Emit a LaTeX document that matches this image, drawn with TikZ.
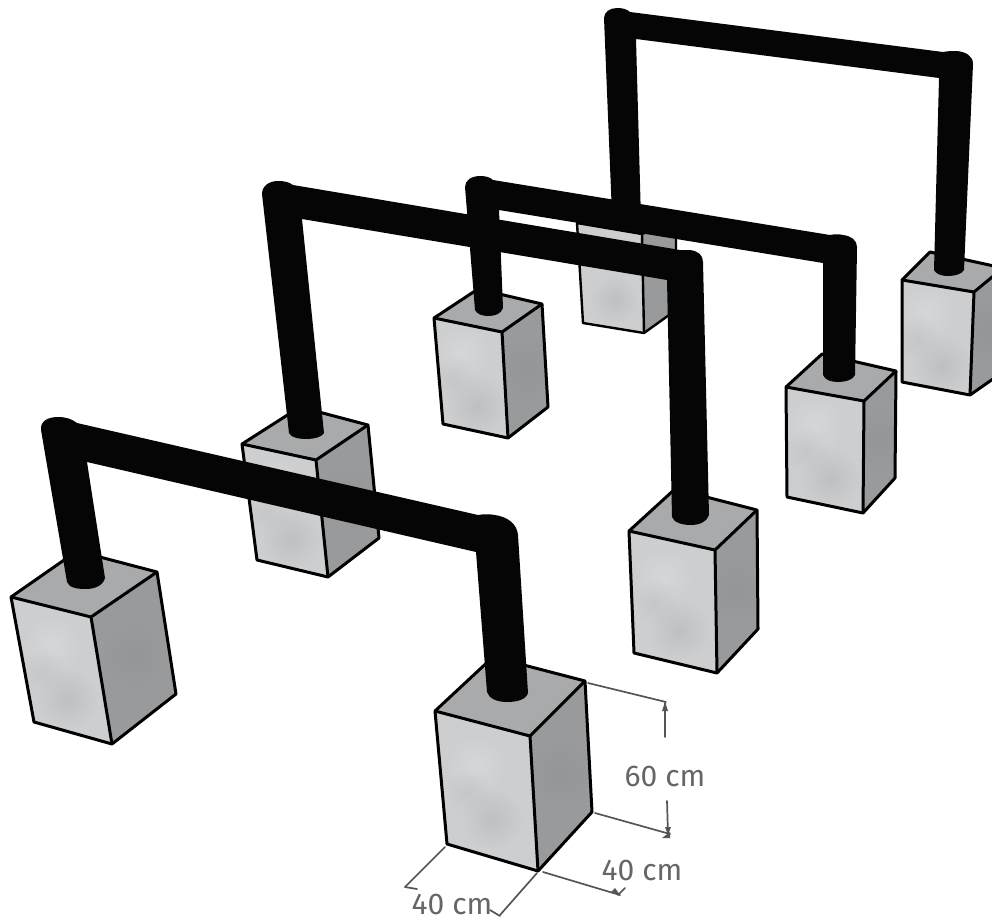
\documentclass[tikz,border=0pt]{standalone}
\usepackage{fontspec}
\setmainfont{Fira Sans}
\usetikzlibrary{calc,fadings}
\tikzfading[name=softblob,inner color=transparent!0,outer color=transparent!100]
\definecolor{fc}{HTML}{CDCED0}
\definecolor{fd}{HTML}{A8A9AB}
\definecolor{fl}{HTML}{E4E5E6}
\definecolor{rc}{HTML}{999A9B}
\definecolor{rd}{HTML}{868788}
\definecolor{tc}{HTML}{A9AAAB}
\definecolor{pc}{HTML}{050505}
\definecolor{dc}{HTML}{555555}
\definecolor{tx}{HTML}{666666}
\tikzset{
  edge/.style={draw=black,line width=3pt,line join=round},
  pipe/.style={fill=pc,draw=none},
  dim/.style={draw=dc,line width=1.7pt,line cap=round},
  tip/.style={fill=dc,draw=none},
  blot/.style={path fading=softblob,fill opacity=0.38},
  dimtext/.style={text=tx,font=\fontsize{30}{30}\selectfont,inner sep=0pt}
}
% L, Back, R, F, BL, BF, BR
\newcommand{\blockbox}[7]{%
  \begin{scope}
    \clip (#1) -- (#4) -- (#6) -- (#5) -- cycle;
    \fill[fc] (#1) -- (#4) -- (#6) -- (#5) -- cycle;
    \fill[fd,blot] ($(#1)!0.5!(#6)+(6,28)$) ellipse (30 and 30);
    \fill[fl,blot] ($(#1)!0.5!(#6)+(-10,-25)$) ellipse (32 and 32);
    \fill[fd,blot,fill opacity=0.2] ($(#1)!0.5!(#6)+(-18,0)$) ellipse (22 and 22);
  \end{scope}
  \begin{scope}
    \clip (#4) -- (#3) -- (#7) -- (#6) -- cycle;
    \fill[rc] (#4) -- (#3) -- (#7) -- (#6) -- cycle;
    \fill[rd,blot,fill opacity=0.22] ($(#4)!0.5!(#7)$) ellipse (30 and 30);
  \end{scope}
  \fill[tc] (#1) -- (#2) -- (#3) -- (#4) -- cycle;
  \draw[edge] (#1) -- (#2) -- (#3) -- (#7) -- (#6) -- (#5) -- cycle;
  \draw[edge] (#1) -- (#4) -- (#3) (#4) -- (#6);
}
\begin{document}
\begin{tikzpicture}[x=1pt,y=-1pt]
\useasboundingbox (0,0) rectangle (992,919);
\clip (0,0) rectangle (992,919);
% rear right block
\blockbox{902,280}{930,252}{1003,268}{974,292}{902,382}{970,395}{1003,372}
% rear centre block (top hidden)
\begin{scope}
  \clip (577,223) -- (642,234) -- (644,333) -- (583,323) -- cycle;
  \fill[fc] (577,223) -- (642,234) -- (644,333) -- (583,323) -- cycle;
  \fill[fd,blot] (615,300) ellipse (24 and 24);
\end{scope}
\fill[rc] (642,234) -- (676,220) -- (676,310) -- (644,333) -- cycle;
\draw[edge,line width=2.4pt] (577,223) -- (642,234) -- (676,220) -- (676,310) -- (644,333) -- (583,323) -- cycle;
\draw[edge,line width=2.4pt] (642,234) -- (644,333);
% rear frame
\fill[pipe] (612,215) -- (604,18) .. controls (604,12) and (610,8) .. (617,8) .. controls (622,8) and (627,9) .. (630,12) -- (943,52) .. controls (948,51) and (952,51) .. (957,51) .. controls (966,52) and (973,56) .. (973,64) -- (964,270) .. controls (962,274) and (955,276) .. (948,276) .. controls (941,276) and (936,274) .. (934,270) -- (939,78) -- (636,39) -- (641,220) -- cycle;
% third row blocks
\blockbox{434,318}{478,289}{542,304}{502,332}{443,424}{508,438}{548,407}
\blockbox{786,387}{822,354}{896,371}{864,401}{787,497}{863,513}{895,478}
% third frame
\fill[pipe] (475,310) -- (465,187) .. controls (465,180) and (472,176) .. (480,176) .. controls (485,176) and (490,177) .. (493,180) -- (830,235) .. controls (835,234) and (839,234) .. (843,235) .. controls (851,236) and (857,240) .. (857,247) -- (855,375) .. controls (853,380) and (845,382) .. (838,382) .. controls (831,382) and (825,380) .. (823,375) -- (823,263) -- (499,210) -- (503,308) .. controls (501,314) and (495,316) .. (488,316) .. controls (482,316) and (477,314) .. (475,310) -- cycle;
% second row blocks
\blockbox{242,444}{300,407}{368,425}{316,460}{257,560}{328,577}{379,538}
\blockbox{629,531}{675,489}{757,510}{715,550}{634,653}{717,673}{758,629}
% second frame
\fill[pipe] (289,433) -- (262,194) .. controls (262,186) and (269,181) .. (278,181) .. controls (284,181) and (289,182) .. (293,185) -- (680,250) .. controls (684,250) and (687,250) .. (690,250) .. controls (698,251) and (703,255) .. (703,262) -- (709,515) .. controls (707,522) and (699,525) .. (691,525) .. controls (683,525) and (674,523) .. (672,517) -- (667,280) -- (302,219) -- (324,433) .. controls (322,437) and (314,439) .. (307,439) .. controls (300,439) and (291,438) .. (289,433) -- cycle;
% front row blocks
\blockbox{11,597}{77,551}{157,572}{91,617}{34,722}{112,744}{176,694}
\blockbox{435,711}{493,657}{585,681}{530,736}{447,844}{538,871}{592,812}
% front frame
\fill[pipe] (67,582) -- (41,430) .. controls (40,421) and (48,417) .. (58,417) .. controls (66,417) and (72,419) .. (77,423) -- (478,515) .. controls (484,514) and (490,514) .. (495,515) .. controls (508,517) and (517,524) .. (518,535) -- (528,693) .. controls (526,700) and (516,702) .. (507,702) .. controls (498,702) and (489,699) .. (487,692) -- (476,552) -- (87,462) -- (105,578) .. controls (103,586) and (94,589) .. (86,589) .. controls (78,589) and (69,588) .. (67,582) -- cycle;
% dimensions
\draw[dim] (588,683) -- (666,702);
\draw[dim] (665,703) -- (665,737);
\fill[tip] (665,702) -- (662,711) -- (668,711) -- cycle;
\draw[dim] (595,813) -- (670,834);
\draw[dim] (667,801) -- (668,835);
\fill[tip] (668,835) -- (665,827) -- (671,827) -- cycle;
\fill[tip] (662,838) -- (670,832) -- (670,838) -- cycle;
\draw[dim] (543,872) -- (620,895);
\draw[dim] (618,895) -- (625,888);
\fill[tip] (620,895) -- (611,892) -- (615,888) -- cycle;
\draw[dim] (445,847) -- (405,887);
\draw[dim] (405,887) -- (417,889);
\draw[dim] (537,873) -- (500,915);
\draw[dim] (490,910) -- (500,916);
\node[dimtext] (h) at (665,776) {60 cm};
\node[dimtext] (w) at (642,870) {40 cm};
\node[dimtext] (d) at (452,904) {40 cm};
\end{tikzpicture}
\end{document}
